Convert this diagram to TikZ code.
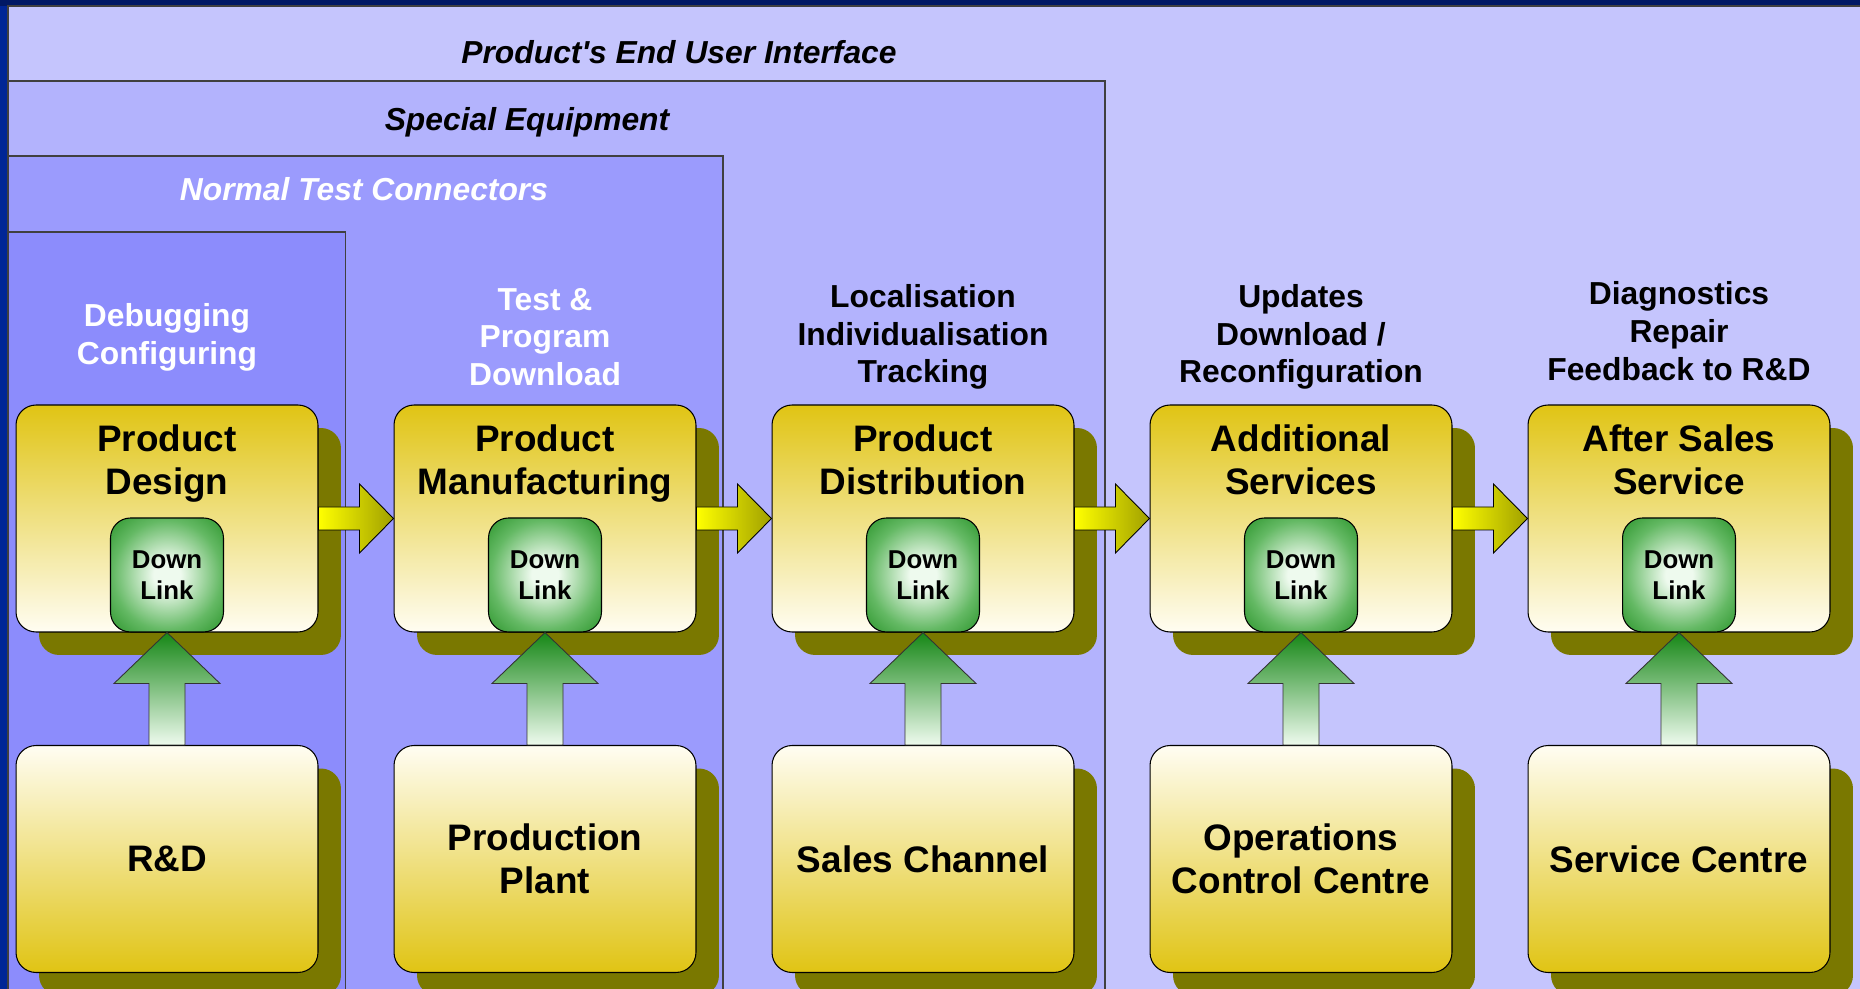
\documentclass[tikz,border=0pt]{standalone}
\usepackage{fontspec}
\setmainfont{Liberation Sans}
\usepackage{tikz}
\usetikzlibrary{calc,shadows}

\definecolor{navyframe}{RGB}{0,38,150}
\definecolor{navytop}{RGB}{0,24,100}
\definecolor{userzone}{RGB}{197,197,253}
\definecolor{equipzone}{RGB}{179,179,253}
\definecolor{testzone}{RGB}{155,155,253}
\definecolor{debugzone}{RGB}{140,140,252}
\definecolor{boxgold}{RGB}{224,196,20}
\definecolor{boxcream}{RGB}{255,253,242}
\definecolor{boxshadow}{RGB}{122,120,0}
\definecolor{linkgreen}{RGB}{22,135,22}
\definecolor{linkmid}{RGB}{100,185,100}
\definecolor{linkcenter}{RGB}{238,250,238}
\definecolor{arrowolive}{RGB}{160,160,0}

\pgfdeclareradialshading{linkglow}{\pgfpoint{0bp}{0bp}}{%
  color(0bp)=(linkcenter); color(6bp)=(linkcenter);
  color(24bp)=(linkmid); color(40bp)=(linkgreen); color(50bp)=(linkgreen)}

\tikzset{
  zone/.style={draw=black!75, line width=0.6pt},
  zonelabel/.style={font=\fontsize{18.1pt}{21.5pt}\selectfont\bfseries\itshape},
  header/.style={align=center, inner sep=0pt,
    font=\fontsize{18.1pt}{21.5pt}\selectfont\bfseries},
  stage/.style={draw=black, line width=0.6pt, rounded corners=0.4cm,
    minimum width=6.04cm, minimum height=4.54cm,
    top color=boxgold, bottom color=boxcream,
    drop shadow={shadow xshift=0.46cm, shadow yshift=-0.46cm,
      fill=boxshadow, opacity=1}},
  source/.style={stage, top color=boxcream, bottom color=boxgold,
    align=center, font=\fontsize{21pt}{24.4pt}\selectfont\bfseries},
  title/.style={anchor=north, align=center, inner sep=0pt,
    font=\fontsize{21pt}{24.4pt}\selectfont\bfseries},
  downlink/.style={draw=black, line width=0.6pt, rounded corners=0.4cm,
    minimum width=2.26cm, minimum height=2.28cm, anchor=south,
    shade, shading=linkglow, align=center,
    font=\fontsize{14.7pt}{17.6pt}\selectfont\bfseries},
  flow/.style={draw=black, line width=0.5pt, left color=yellow, right color=arrowolive},
  feed/.style={draw=black!80, line width=0.5pt, top color=linkgreen, bottom color=linkcenter}
}

\begin{document}
\begin{tikzpicture}[x=0.02cm, y=-0.02cm]
	\useasboundingbox (0,0) rectangle (1860,989);
	
	% frame and nested zones
	\fill[navyframe] (-20,-20) rectangle (1880,1010);
	\fill[navytop] (-20,-20) rectangle (1880,6);
	\draw[zone, fill=userzone] (8,6) rectangle (1900,1010);
	\draw[zone, fill=equipzone] (8,81) rectangle (1105,1010);
	\draw[zone, fill=testzone] (8,156) rectangle (723,1010);
	\draw[zone, fill=debugzone] (8,232) rectangle (345.5,1010);
	
	\node[zonelabel] (userLbl) at (679,52) {Product\textquotesingle s End User Interface};
	\node[zonelabel] (equipLbl) at (527,122) {Special Equipment};
	\node[zonelabel, white] (testLbl) at (364,189) {Normal Test Connectors};
	
	% --- column 1: design ---
	\node[header, white] (hdDesign) at (167,337) {Debugging\\Configuring};
	\node[stage] (design) at (167,518.5) {};
	\node[title] (tDesign) at ($(design.north)+(0,20)$) {Product\\Design};
	\node[downlink] (lkDesign) at (design.south) {Down\\Link};
	\node[source] (rnd) at (167,859) {R\&D};
	
	% --- column 2: manufacturing ---
	\node[header, white] (hdManuf) at (545,337) {Test \&\\Program\\Download};
	\node[stage] (manuf) at (545,518.5) {};
	\node[title] (tManuf) at ($(manuf.north)+(0,20)$) {Product\\Manufacturing};
	\node[downlink] (lkManuf) at (manuf.south) {Down\\Link};
	\node[source] (plant) at (545,859) {Production\\Plant};
	
	% --- column 3: distribution ---
	\node[header] (hdDistrib) at (923,337) {Localisation\\Individualisation\\Tracking};
	\node[stage] (distrib) at (923,518.5) {};
	\node[title] (tDistrib) at ($(distrib.north)+(0,20)$) {Product\\Distribution};
	\node[downlink] (lkDistrib) at (distrib.south) {Down\\Link};
	\node[source] (sales) at (923,859) {Sales Channel};
	
	% --- column 4: services ---
	\node[header] (hdServices) at (1301,337) {Updates\\Download /\\Reconfiguration};
	\node[stage] (services) at (1301,518.5) {};
	\node[title] (tServices) at ($(services.north)+(0,20)$) {Additional\\Services};
	\node[downlink] (lkServices) at (services.south) {Down\\Link};
	\node[source] (opcc) at (1301,859) {Operations\\Control Centre};
	
	% --- column 5: after sales ---
	\node[header] (hdAfter) at (1679,331) {Diagnostics\\Repair\\Feedback to R\&D};
	\node[stage] (after) at (1679,518.5) {};
	\node[title] (tAfter) at ($(after.north)+(0,20)$) {After Sales\\Service};
	\node[downlink] (lkAfter) at (after.south) {Down\\Link};
	\node[source] (svc) at (1679,859) {Service Centre};
	
	% yellow arrows between stages
	\foreach \a/\b in {design/manuf, manuf/distrib, distrib/services, services/after}
	\path[flow] ($(\a.east)+(0,-11.5)$) -- ($(\b.west)+(-34,-11.5)$)
	-- ($(\b.west)+(-34,-34.5)$) -- (\b.west) -- ($(\b.west)+(-34,34.5)$)
	-- ($(\b.west)+(-34,11.5)$) -- ($(\a.east)+(0,11.5)$) -- cycle;
	
	% green arrows up into the down links
	\foreach \l/\s in {lkDesign/rnd, lkManuf/plant, lkDistrib/sales, lkServices/opcc, lkAfter/svc}
	\path[feed] (\l.south) -- ($(\l.south)+(53,51)$) -- ($(\l.south)+(18,51)$)
	-- ($(\s.north)+(18,0)$) -- ($(\s.north)+(-18,0)$)
	-- ($(\l.south)+(-18,51)$) -- ($(\l.south)+(-53,51)$) -- cycle;
	
\end{tikzpicture}
\end{document}
